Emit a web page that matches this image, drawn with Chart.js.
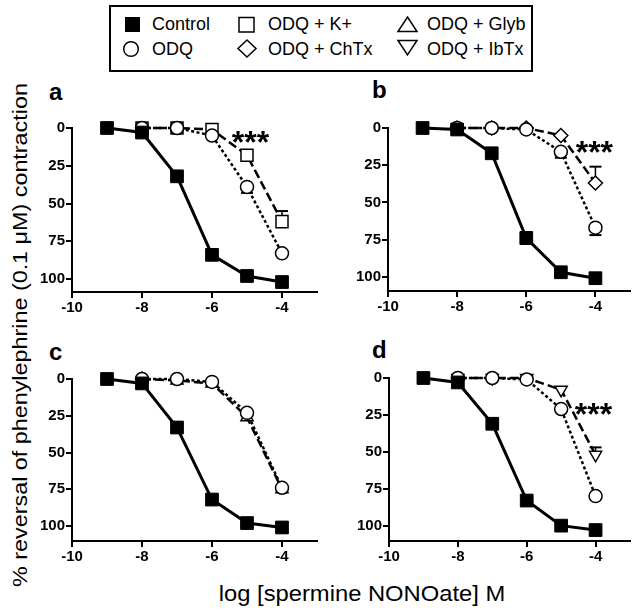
<!DOCTYPE html>
<html><head><meta charset="utf-8">
<script src="https://cdn.jsdelivr.net/npm/chart.js@4/dist/chart.umd.min.js"></script>
<style>
html,body{margin:0;padding:0;background:#fff}
body{width:640px;height:615px;position:relative;overflow:hidden;font-family:"Liberation Sans",Arial,Helvetica,sans-serif;color:#000}
.abs{position:absolute;white-space:nowrap}
.leg{font-size:18px;line-height:20px}
.letter{font-size:24px;line-height:24px;font-weight:bold}
</style></head><body>

<div class="abs" style="left:109px;top:5px;width:420px;height:63px;border:2px solid #000"></div>
<svg class="abs" style="left:0;top:0" width="640" height="80">
  <rect x="125" y="17" width="15" height="15" fill="#000"/>
  <circle cx="131" cy="49" r="7.3" fill="#fff" stroke="#000" stroke-width="1.5"/>
  <rect x="239" y="17.5" width="15" height="14.5" fill="#fff" stroke="#000" stroke-width="1.5"/>
  <polygon points="247,40 256,48.5 247,57 238,48.5" fill="#fff" stroke="#000" stroke-width="1.5"/>
  <polygon points="407.5,17 417,31.5 398,31.5" fill="#fff" stroke="#000" stroke-width="1.5"/>
  <polygon points="398,40.5 417,40.5 407.5,55" fill="#fff" stroke="#000" stroke-width="1.5"/>
</svg>
<div class="abs leg" id="l0" style="left:152px;top:14px"></div>
<div class="abs leg" id="l1" style="left:152px;top:39px"></div>
<div class="abs leg" id="l2" style="left:268px;top:14px"></div>
<div class="abs leg" id="l3" style="left:268px;top:39px"></div>
<div class="abs leg" id="l4" style="left:427px;top:14px"></div>
<div class="abs leg" id="l5" style="left:427px;top:39px"></div>

<div class="abs letter" style="left:49px;top:80px">a</div>
<div class="abs letter" style="left:372px;top:78px">b</div>
<div class="abs letter" style="left:49px;top:340px">c</div>
<div class="abs letter" style="left:372px;top:338px">d</div>

<div class="abs" id="ylab" style="left:-280.5px;top:323px;width:600px;height:24px;line-height:24px;font-size:20px;text-align:center;transform:rotate(-90deg) scaleX(1.167)"></div>
<div class="abs" id="xlab" style="left:161.5px;top:583px;width:400px;height:22px;line-height:22px;font-size:22px;text-align:center;transform:scaleX(1.08)"></div>

<div class="abs" id="pa"><canvas id="ca"></canvas></div>
<div class="abs" id="pb"><canvas id="cb"></canvas></div>
<div class="abs" id="pc"><canvas id="cc"></canvas></div>
<div class="abs" id="pd"><canvas id="cd"></canvas></div>

<script>
// ---- data ----
const legendLabels = ["Control", "ODQ", "ODQ + K+", "ODQ + ChTx", "ODQ + Glyb", "ODQ + IbTx"];
const yAxisTitle = "% reversal of phenylephrine (0.1 \u03BCM) contraction";
const xAxisTitle = "log [spermine NONOate] M";
const xTicks = [-10, -8, -6, -4];
const yTicks = [0, 25, 50, 75, 100];

const doses = [-9, -8, -7, -6, -5, -4];
const dosesOdq = [-8, -7, -6, -5, -4];

// panel a
const controlA = [0, 3, 32, 84, 98, 102];
const odqA = [0, 0, 5, 39, 83];
const odqErrA = [null, null, null, 4, null];
const kA = [0, 0, 1, 18, 62];
const kErrA = [null, null, null, null, -7];
// panel b
const controlB = [0, 1, 17, 74, 97, 101];
const controlErrB = [null, null, null, [-4, 4], null, null];
const odqB = [0, 0, 1, 16, 67];
const odqErrB = [null, null, null, 4, 5];
const chtxB = [0, 0, 0, 5, 37];
const chtxErrB = [null, null, null, null, -11];
// panel c
const controlC = [0, 3, 33, 82, 98, 101];
const odqC = [0, 0, 2, 23, 74];
const glybC = [0, 1, 3, 26, 75];
// panel d
const controlD = [0, 3, 31, 83, 100, 103];
const odqD = [0, 0, 1, 21, 80];
const ibtxD = [0, 0, 0, 8, 52];
const ibtxErrD = [null, null, null, null, -5];

// significance marks (data coords)
const starLabel = "***";
const starX = [-4.9, -4.03, null, -4.06];
const starY = [6, 13, null, 21];

// ---- text ----
legendLabels.forEach((t, i) => { document.getElementById('l' + i).textContent = t; });
document.getElementById('ylab').textContent = yAxisTitle;
document.getElementById('xlab').textContent = xAxisTitle;

Chart.defaults.font.family = '"Liberation Sans", Arial, Helvetica, sans-serif';
Chart.defaults.font.size = 15;
Chart.defaults.font.weight = 'bold';
Chart.defaults.color = '#000';

const styles = {
  control: {pointStyle: 'rect', pointRadius: 9, pointBackgroundColor: '#000', borderColor: '#000', borderWidth: 3, pointBorderWidth: 1, borderDash: []},
  odq: {pointStyle: 'circle', pointRadius: 6.5, pointBackgroundColor: '#fff', borderColor: '#000', borderWidth: 2.5, pointBorderWidth: 1.5, borderDash: [3, 2.5]},
  k: {pointStyle: 'rect', pointRadius: 8.5, pointBackgroundColor: '#fff', borderColor: '#000', borderWidth: 2.5, pointBorderWidth: 1.5, borderDash: [9, 4]},
  chtx: {pointStyle: 'rectRot', pointRadius: 7, pointBackgroundColor: '#fff', borderColor: '#000', borderWidth: 2.5, pointBorderWidth: 1.5, borderDash: [9, 4]},
  glyb: {pointStyle: 'triangle', pointRadius: 7, pointBackgroundColor: '#fff', borderColor: '#000', borderWidth: 2.5, pointBorderWidth: 1.5, borderDash: [9, 4]},
  ibtx: {pointStyle: 'triangle', pointRotation: 180, pointRadius: 7, pointBackgroundColor: '#fff', borderColor: '#000', borderWidth: 2.5, pointBorderWidth: 1.5, borderDash: [9, 4]}
};

function series(label, xs, ys, errs, style) {
  return Object.assign({
    label: label,
    data: xs.map((x, i) => ({x: x, y: ys[i]})),
    errors: errs || null,
    tension: 0, fill: false, clip: false,
    pointHoverRadius: style.pointRadius
  }, style);
}

const errorBarPlugin = {
  id: 'errorBars',
  beforeDatasetsDraw(chart) {
    const ctx = chart.ctx, ys = chart.scales.y;
    chart.data.datasets.forEach((ds, di) => {
      if (!ds.errors) return;
      const meta = chart.getDatasetMeta(di);
      ds.errors.forEach((e, i) => {
        if (e === null || e === undefined) return;
        const pt = meta.data[i];
        const v = ds.data[i].y;
        const ends = Array.isArray(e) ? e : [e];
        ctx.save();
        ctx.strokeStyle = '#000';
        ends.forEach(d => {
          const py = ys.getPixelForValue(v + d);
          ctx.lineWidth = 1.5;
          ctx.beginPath(); ctx.moveTo(pt.x, pt.y); ctx.lineTo(pt.x, py); ctx.stroke();
          ctx.lineWidth = 2;
          ctx.beginPath(); ctx.moveTo(pt.x - 6, py); ctx.lineTo(pt.x + 6, py); ctx.stroke();
        });
        ctx.restore();
      });
    });
  }
};

const starPlugin = {
  id: 'stars',
  afterDatasetsDraw(chart, args, opts) {
    if (opts.x === null || opts.x === undefined) return;
    const ctx = chart.ctx;
    const px = chart.scales.x.getPixelForValue(opts.x);
    const py = chart.scales.y.getPixelForValue(opts.y);
    ctx.save();
    ctx.font = 'bold 32px "Liberation Sans", Arial, sans-serif';
    ctx.fillStyle = '#000';
    ctx.textAlign = 'center';
    ctx.textBaseline = 'middle';
    ctx.fillText(starLabel, px, py + 7);
    ctx.restore();
  }
};

const panels = [
  {div: 'pa', cv: 'ca', left: 0, top: 80, w: 330, h: 240, yW: 72, padTop: 48, padRight: 13, xH: 28, yMax: 108.6},
  {div: 'pb', cv: 'cb', left: 330, top: 80, w: 310, h: 240, yW: 58, padTop: 48, padRight: 6, xH: 29, yMax: 109.6},
  {div: 'pc', cv: 'cc', left: 0, top: 330, w: 330, h: 240, yW: 72, padTop: 49, padRight: 13, xH: 29, yMax: 110.2},
  {div: 'pd', cv: 'cd', left: 330, top: 330, w: 310, h: 240, yW: 59, padTop: 48, padRight: 5, xH: 29, yMax: 110.4}
];

const panelData = [
  [series(legendLabels[0], doses, controlA, null, styles.control),
   series(legendLabels[1], dosesOdq, odqA, odqErrA, styles.odq),
   series(legendLabels[2], dosesOdq, kA, kErrA, styles.k)],
  [series(legendLabels[0], doses, controlB, controlErrB, styles.control),
   series(legendLabels[1], dosesOdq, odqB, odqErrB, styles.odq),
   series(legendLabels[3], dosesOdq, chtxB, chtxErrB, styles.chtx)],
  [series(legendLabels[0], doses, controlC, null, styles.control),
   series(legendLabels[1], dosesOdq, odqC, null, styles.odq),
   series(legendLabels[4], dosesOdq, glybC, null, styles.glyb)],
  [series(legendLabels[0], doses, controlD, null, styles.control),
   series(legendLabels[1], dosesOdq, odqD, null, styles.odq),
   series(legendLabels[5], dosesOdq, ibtxD, ibtxErrD, styles.ibtx)]
];

const gridOpts = {display: true, drawOnChartArea: false, drawTicks: true, tickLength: 6, color: '#000', lineWidth: 2};
const borderOpts = {display: true, color: '#000', width: 2};

panels.forEach((p, idx) => {
  const d = document.getElementById(p.div);
  d.style.left = p.left + 'px'; d.style.top = p.top + 'px';
  d.style.width = p.w + 'px'; d.style.height = p.h + 'px';
  const c = document.getElementById(p.cv);
  c.width = p.w; c.height = p.h;
  c.style.width = p.w + 'px'; c.style.height = p.h + 'px';
  new Chart(c, {
    type: 'line',
    data: {datasets: panelData[idx]},
    plugins: [errorBarPlugin, starPlugin],
    options: {
      responsive: false, animation: false, devicePixelRatio: 1,
      layout: {padding: {left: 0, top: p.padTop, right: p.padRight, bottom: 0}},
      plugins: {legend: {display: false}, tooltip: {enabled: false},
                stars: {x: starX[idx], y: starY[idx]}},
      scales: {
        x: {type: 'linear', min: -10, max: -3,
            afterBuildTicks: s => { s.ticks = xTicks.map(v => ({value: v})); },
            afterFit: s => { s.height = p.xH; },
            ticks: {font: {size: 15, weight: 'bold'}, color: '#000', padding: 1, maxRotation: 0, autoSkip: false},
            grid: gridOpts, border: borderOpts},
        y: {type: 'linear', min: 0, max: p.yMax, reverse: true,
            afterBuildTicks: s => { s.ticks = yTicks.map(v => ({value: v})); },
            afterFit: s => { s.width = p.yW; },
            ticks: {font: {size: 15, weight: 'bold'}, color: '#000', padding: 1, autoSkip: false},
            grid: gridOpts, border: borderOpts}
      }
    }
  });
});
</script>
</body></html>
